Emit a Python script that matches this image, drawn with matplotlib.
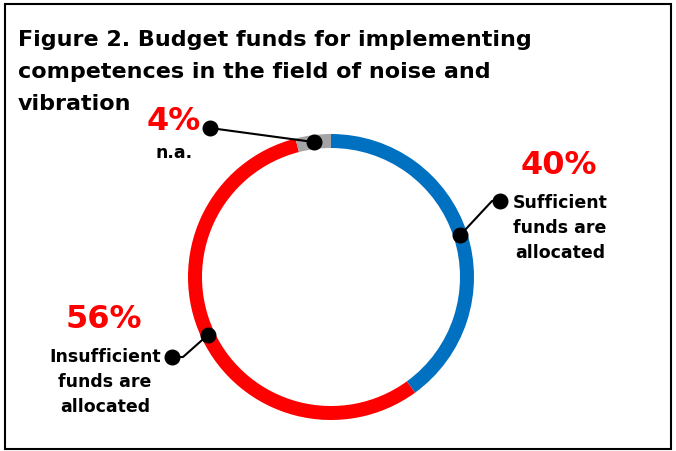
import numpy as np
import matplotlib.pyplot as plt
from matplotlib.patches import Rectangle

# Data
categories = ["Sufficient funds are allocated", "Insufficient funds are allocated", "n.a."]
shares = [40, 56, 4]
colors = ["#0070C0", "#FF0000", "#A5A5A5"]
label_lines = [["Sufficient", "funds are", "allocated"],
               ["Insufficient", "funds are", "allocated"],
               ["n.a."]]
title_lines = ["Figure 2. Budget funds for implementing",
               "competences in the field of noise and",
               "vibration"]

W, H = 676, 451
cx, cy = 331, 277     # ring centre (pixels from top-left)
radius, ring = 143, 14

fig = plt.figure(figsize=(W / 100, H / 100), dpi=100)
ax = fig.add_axes([0, 0, 1, 1])
ax.axis("off")

wedges, _ = ax.pie(shares, colors=colors, startangle=90, counterclock=False,
                   radius=radius, wedgeprops=dict(width=ring, linewidth=0))
# one data unit = one pixel, origin at the ring centre, y upwards
ax.set_xlim(-cx, W - cx)
ax.set_ylim(-(H - cy), cy)
ax.set_aspect("auto")

def px(x, y):
    # pixel position (from top-left) to data coordinates
    return x - cx, cy - y

font = "DejaVu Sans"

# Title
for i, line in enumerate(title_lines):
    ax.text(*px(18, 46 + 32 * i), line, fontsize=16, fontweight="bold",
            family=font, ha="left", va="baseline")

# Label layout: percent position, first text baseline, outer dot, elbow
label_pos = [dict(pct=(559, 174), txt=(560, 208), dot=(500, 201), elbow=(492, 201)),
             dict(pct=(104, 328), txt=(105, 362), dot=(172, 357), elbow=(183, 357)),
             dict(pct=(174, 130), txt=(174, 158), dot=(210, 128), elbow=None)]

for w, share, lines, pos in zip(wedges, shares, label_lines, label_pos):
    # anchor dot at the middle of the ring segment
    ang = np.deg2rad((w.theta1 + w.theta2) / 2)
    r_mid = radius - ring / 2
    pts = [(r_mid * np.cos(ang), r_mid * np.sin(ang))]
    if pos["elbow"] is not None:
        pts.append(px(*pos["elbow"]))
    pts.append(px(*pos["dot"]))
    xs, ys = zip(*pts)
    ax.plot(xs, ys, color="black", lw=1.5, zorder=3)
    ax.plot([xs[0], xs[-1]], [ys[0], ys[-1]], "o", color="black",
            markersize=10.5, zorder=4)
    ax.text(*px(*pos["pct"]), f"{share}%", fontsize=23, fontweight="bold",
            color="#FF0000", family=font, ha="center", va="baseline")
    for j, line in enumerate(lines):
        ax.text(*px(pos["txt"][0], pos["txt"][1] + 25 * j), line, fontsize=12.5,
                fontweight="bold", family=font, ha="center", va="baseline")

# Frame around the figure
fig.patches.append(Rectangle((5 / W, 2 / H), 666 / W, 445 / H, transform=fig.transFigure,
                             fill=False, edgecolor="black", linewidth=1.5))

fig.savefig("out.png", dpi=100)
